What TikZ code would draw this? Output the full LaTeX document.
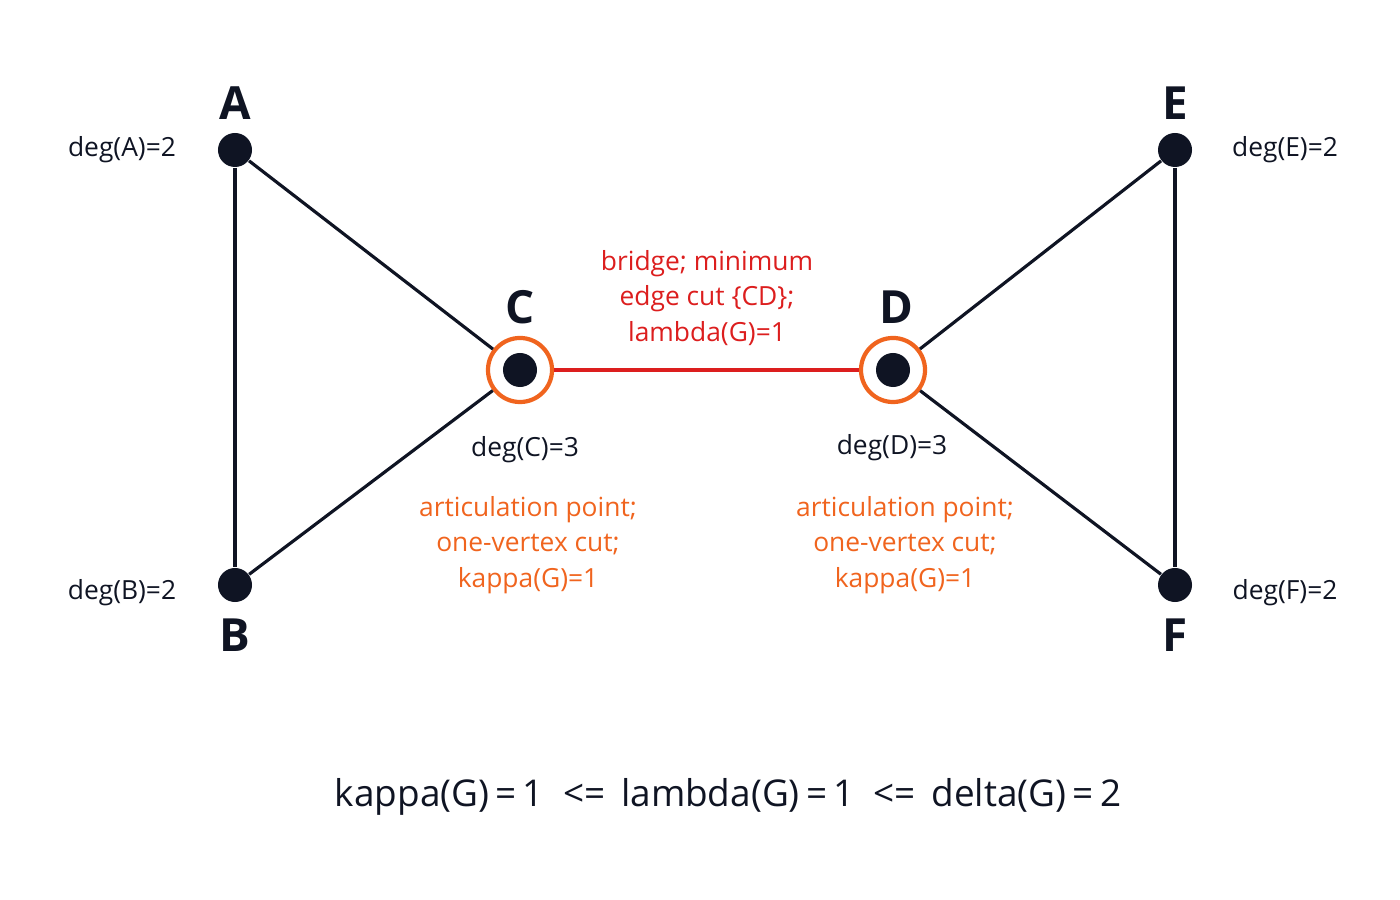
\documentclass[tikz,border=0pt]{standalone}
\usepackage{fontspec}
\setmainfont{Open Sans}
\usetikzlibrary{positioning}
\definecolor{ink}{RGB}{15,20,35}
\definecolor{cutorange}{RGB}{240,100,30}
\definecolor{bridgered}{RGB}{220,30,30}

\begin{document}
\begin{tikzpicture}[x=0.01cm, y=0.01cm,
  vertex/.style={circle, fill=ink, inner sep=0pt, minimum size=0.34cm},
  cut/.style={circle, draw=cutorange, line width=1.2pt, fill=white, inner sep=0pt, minimum size=0.64cm},
  edge/.style={draw=ink, line width=0.9pt},
  vlabel/.style={font=\fontsize{13}{13}\selectfont\bfseries, text=ink},
  deg/.style={font=\fontsize{7.5}{7.5}\selectfont, text=ink},
  note/.style={font=\fontsize{7.5}{10}\selectfont, align=center}]
\useasboundingbox (0,0) rectangle (1400,900);

% vertices
\node[vertex] (A) at (235,750) {};
\node[vertex] (B) at (235,315) {};
\node[cut] (Cr) at (520,530) {};
\node[vertex] (C) at (520,530) {};
\node[cut] (Dr) at (893,530) {};
\node[vertex] (D) at (893,530) {};
\node[vertex] (E) at (1175,750) {};
\node[vertex] (F) at (1175,315) {};

% edges
\draw[edge] (A) -- (B);
\draw[edge] (A) -- (Cr);
\draw[edge] (B) -- (Cr);
\draw[edge] (E) -- (F);
\draw[edge] (E) -- (Dr);
\draw[edge] (F) -- (Dr);
\draw[draw=bridgered, line width=1pt] (Cr) -- (Dr);

% names
\node[vlabel] at (235,797) {A};
\node[vlabel] at (235,265) {B};
\node[vlabel] at (520,593) {C};
\node[vlabel] at (896,593) {D};
\node[vlabel] at (1175,797) {E};
\node[vlabel] at (1175,265) {F};

% degrees
\node[deg] at (122,750) {deg(A)=2};
\node[deg] at (122,307) {deg(B)=2};
\node[deg] at (525,450) {deg(C)=3};
\node[deg] at (892,452) {deg(D)=3};
\node[deg] at (1285,750) {deg(E)=2};
\node[deg] at (1285,307) {deg(F)=2};

% annotations
\node[note, text=bridgered] at (707,602) {bridge; minimum\\edge cut \{CD\};\\lambda(G)=1};
\node[note, text=cutorange] at (528,355) {articulation point;\\one-vertex cut;\\kappa(G)=1};
\node[note, text=cutorange] at (905,355) {articulation point;\\one-vertex cut;\\kappa(G)=1};

\node[font=\fontsize{10.5}{10.5}\selectfont, text=ink] at (728,103) {kappa(G)\,=\,1 \ <= \,lambda(G)\,=\,1 \ <= \,delta(G)\,=\,2};
\end{tikzpicture}
\end{document}
